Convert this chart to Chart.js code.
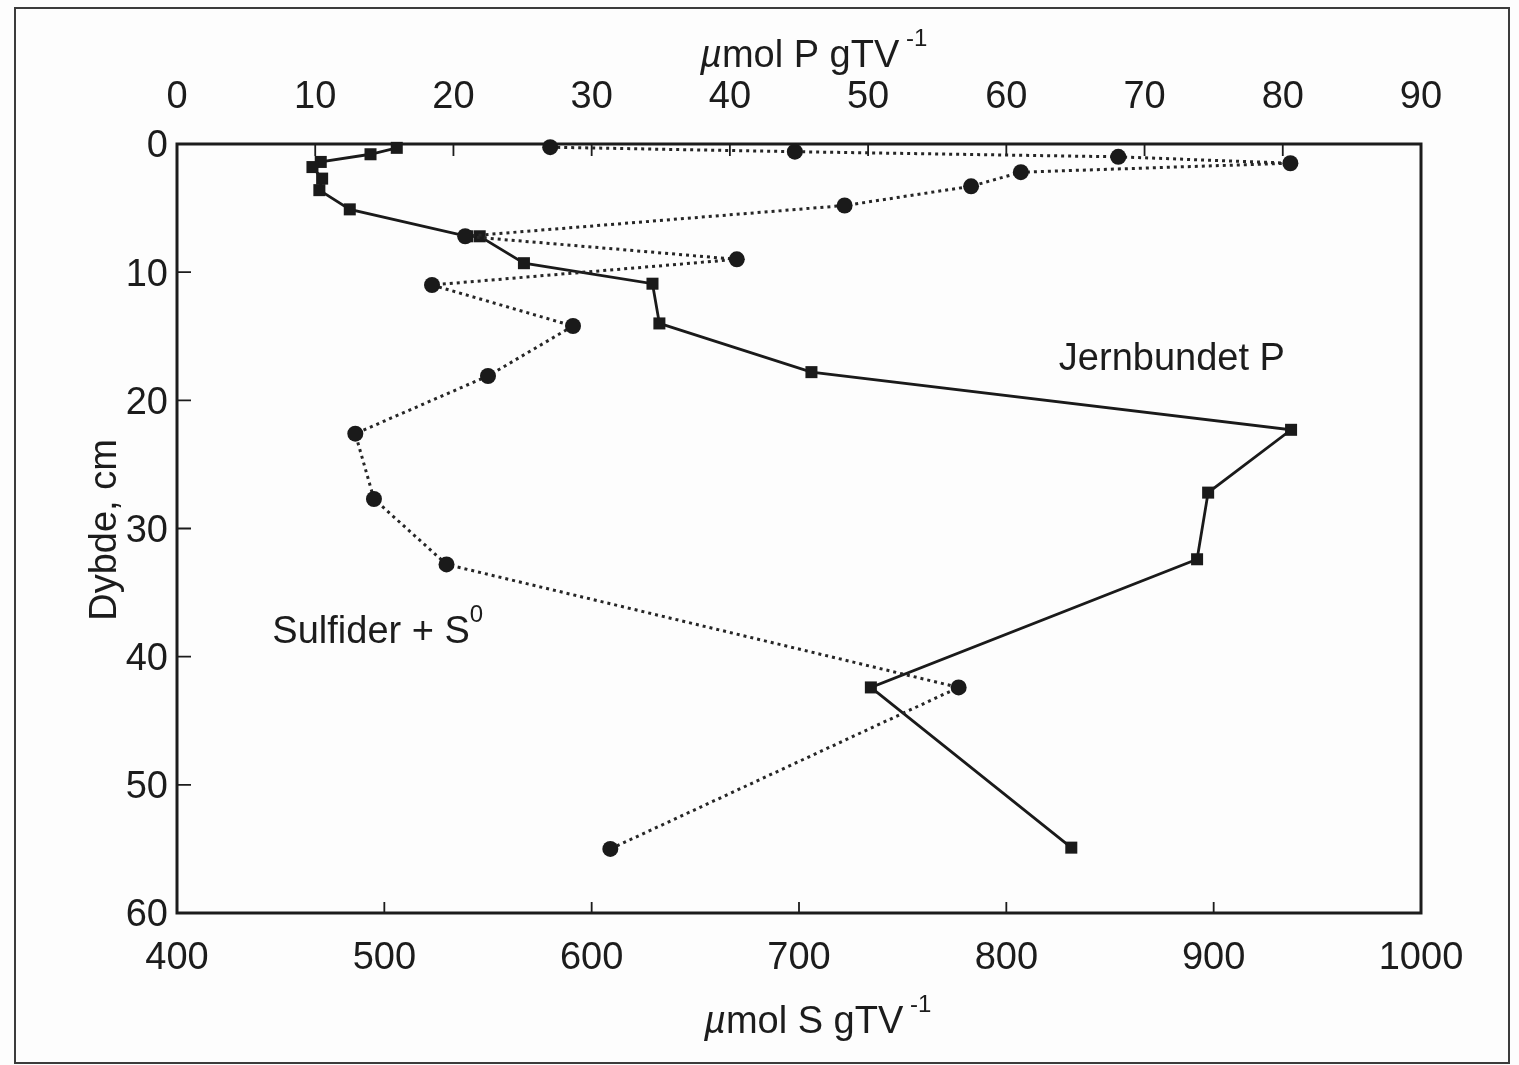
<!doctype html>
<html lang="da">
<head>
  <meta charset="utf-8">
  <title>Dybdeprofil: jernbundet P og sulfider</title>
  <script src="https://cdn.jsdelivr.net/npm/chart.js"></script>
  <style>
    html, body { margin: 0; padding: 0; background: #fdfdfd; }
    #wrap { position: relative; width: 1519px; height: 1065px; overflow: hidden; }
    #profile { position: absolute; left: 0; top: 0; }
    /* outer box round the figure, as on the printed page */
    #frame {
      position: absolute; left: 14px; top: 7px; width: 1496px; height: 1057px;
      border: 2.5px solid #3c3c3c; box-sizing: border-box; pointer-events: none;
    }
  </style>
</head>
<body>
<div id="wrap">
  <canvas id="profile" width="1519" height="1065"></canvas>
  <div id="frame"></div>
</div>
<script>
  // Jernbundet P, umol P per g TV (top axis), squares + solid line
  const jernDepth = [0.3, 0.8, 1.4, 1.8, 2.7, 3.6, 5.1, 7.2, 7.2, 9.3, 10.9, 14.0, 17.8, 22.3, 27.2, 32.4, 42.4, 54.9];
  const jernP     = [15.9, 14.0, 10.4, 9.8, 10.5, 10.3, 12.5, 21.0, 21.9, 25.1, 34.4, 34.9, 45.9, 80.6, 74.6, 73.8, 50.2, 64.7];

  // Sulfider + S0, umol S per g TV (bottom axis), circles + dotted line
  const sulfDepth = [0.25, 0.6, 1.0, 1.5, 2.2, 3.3, 4.8, 7.2, 9.0, 11.0, 14.2, 18.1, 22.6, 27.7, 32.8, 42.4, 55.0];
  const sulfS     = [580, 698, 854, 937, 807, 783, 722, 539, 670, 523, 591, 550, 486, 495, 530, 777, 609];

  // tick labels
  const pTicks = [0, 10, 20, 30, 40, 50, 60, 70, 80, 90];
  const sTicks = [400, 500, 600, 700, 800, 900, 1000];
  const depthTicks = [0, 10, 20, 30, 40, 50, 60];

  const ink = '#1c1c1c';
  const fam = '"Liberation Sans", Arial, Helvetica, sans-serif';
  const tickFont = { family: fam, size: 38 };
  const plain = v => String(v);

  // draws a run of text pieces: {t, italic, sup}
  function drawRun(ctx, parts, x, y, size) {
    parts.forEach(p => {
      const fs = p.sup ? Math.round(size * 0.62) : size;
      ctx.font = (p.italic ? 'italic ' : '') + fs + 'px ' + fam;
      const yy = p.sup ? y - size * 0.55 : y;
      ctx.fillText(p.t, x, yy);
      x += ctx.measureText(p.t).width;
    });
  }

  const paper = {
    id: 'paper',
    beforeDatasetsDraw(chart) {
      const { ctx, chartArea: a, scales } = chart;
      ctx.save();
      ctx.strokeStyle = ink;
      ctx.lineWidth = 1.8;
      ctx.beginPath();
      // tick marks point into the plot
      scales.xP.ticks.forEach(t => {
        const x = scales.xP.getPixelForValue(t.value);
        ctx.moveTo(x, a.top); ctx.lineTo(x, a.top + 12);
      });
      scales.xS.ticks.forEach(t => {
        const x = scales.xS.getPixelForValue(t.value);
        ctx.moveTo(x, a.bottom); ctx.lineTo(x, a.bottom - 11);
      });
      scales.y.ticks.forEach(t => {
        const y = scales.y.getPixelForValue(t.value);
        ctx.moveTo(a.left, y); ctx.lineTo(a.left + 14, y);
      });
      ctx.stroke();
      ctx.lineWidth = 3;
      ctx.strokeRect(a.left, a.top, a.right - a.left, a.bottom - a.top);
      ctx.restore();
    },
    afterDraw(chart) {
      const { ctx, scales } = chart;
      ctx.save();
      ctx.fillStyle = ink;
      ctx.textAlign = 'left';
      ctx.textBaseline = 'alphabetic';
      // axis titles
      drawRun(ctx, [{ t: '\u00b5', italic: true }, { t: 'mol P gTV' }, { t: ' -1', sup: true }], 700, 67, 38);
      drawRun(ctx, [{ t: '\u00b5', italic: true }, { t: 'mol S gTV' }, { t: ' -1', sup: true }], 704, 1033, 38);
      ctx.save();
      ctx.translate(116, 530);
      ctx.rotate(-Math.PI / 2);
      ctx.textAlign = 'center';
      ctx.font = '38px ' + fam;
      ctx.fillText('Dybde, cm', 0, 0);
      ctx.restore();
      // series labels, placed in data units
      drawRun(ctx, [{ t: 'Jernbundet P' }],
        scales.xP.getPixelForValue(63.8), scales.y.getPixelForValue(17.6), 38);
      drawRun(ctx, [{ t: 'Sulfider + S' }, { t: '0', sup: true }],
        scales.xS.getPixelForValue(446), scales.y.getPixelForValue(38.9), 38);
      ctx.restore();
    }
  };

  new Chart(document.getElementById('profile'), {
    type: 'scatter',
    data: {
      datasets: [
        {
          label: 'Sulfider + S0',
          data: sulfS.map((s, i) => ({ x: s, y: sulfDepth[i] })),
          xAxisID: 'xS', yAxisID: 'y',
          showLine: true,
          borderColor: '#262626', borderWidth: 3, borderDash: [3, 4],
          pointStyle: 'circle', pointRadius: 8,
          pointBackgroundColor: '#1a1a1a', pointBorderWidth: 0,
          clip: false
        },
        {
          label: 'Jernbundet P',
          data: jernP.map((p, i) => ({ x: p, y: jernDepth[i] })),
          xAxisID: 'xP', yAxisID: 'y',
          showLine: true,
          borderColor: '#1a1a1a', borderWidth: 2.8,
          pointStyle: 'rect', pointRadius: 8.5,
          pointBackgroundColor: '#1a1a1a', pointBorderWidth: 0,
          clip: false
        }
      ]
    },
    options: {
      responsive: false,
      animation: false,
      events: [],
      layout: { padding: { left: 0, top: 0, right: 98, bottom: 0 } },
      plugins: { legend: { display: false }, tooltip: { enabled: false } },
      scales: {
        xP: {
          type: 'linear', position: 'top', min: 0, max: 90,
          afterBuildTicks: s => { s.ticks = pTicks.map(v => ({ value: v })); },
          afterFit: s => { s.height = 144; },
          grid: { display: false, drawTicks: false },
          border: { display: false },
          ticks: { padding: 24, font: tickFont, color: ink, maxRotation: 0, callback: plain }
        },
        xS: {
          type: 'linear', position: 'bottom', min: 400, max: 1000,
          afterBuildTicks: s => { s.ticks = sTicks.map(v => ({ value: v })); },
          afterFit: s => { s.height = 152; },
          grid: { display: false, drawTicks: false },
          border: { display: false },
          ticks: { padding: 23, font: tickFont, color: ink, maxRotation: 0, callback: plain }
        },
        y: {
          type: 'linear', position: 'left', min: 0, max: 60, reverse: true,
          afterBuildTicks: s => { s.ticks = depthTicks.map(v => ({ value: v })); },
          afterFit: s => { s.width = 177; },
          grid: { display: false, drawTicks: false },
          border: { display: false },
          ticks: { padding: 9, labelOffset: 3, font: tickFont, color: ink, callback: plain }
        }
      }
    },
    plugins: [paper]
  });
</script>
</body>
</html>
